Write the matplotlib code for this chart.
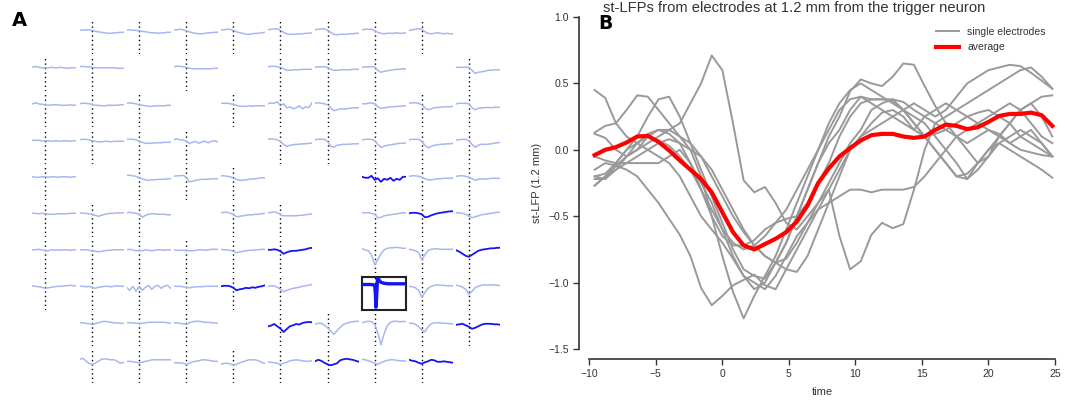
import numpy as np
import matplotlib
matplotlib.use("Agg")
import matplotlib.pyplot as plt

W, H = 1065, 401

# ---------------- Panel A data (electrode array) ----------------
T_A = np.arange(-10, 25.1, 2.5)          # trace time samples

ROW0_COLS = [1, 2, 3, 4, 5, 6, 7, 8]
ROW0 = [
    [1, 0.5, 1, 1, 0.5, -0.5, -1, -1.5, -2, -2.5, -2.5, -2, -2, -1.5, -1.5],
    [1, 1, 0.5, 0.5, 0, -0.5, -1, -1.5, -2, -2, -2.5, -2, -2, -1.5, -1.5],
    [1, 1, 1.5, 1, 0, -1, -2, -2.5, -3, -3, -2.5, -2, -2, -1.5, -1.5],
    [1, 1, 1.5, 1.5, 0.5, -1, -2, -2.5, -3.5, -3.5, -3, -2.5, -2.5, -2, -1.5],
    [1, 1.5, 2, 2, 0.5, -1.5, -3, -3.5, -3.5, -3.5, -3, -3, -2.5, -2.5, -2],
    [1, 1.5, 2, 2, 0.5, -1.5, -3.5, -4, -3.5, -3.5, -3.5, -3, -3, -2.5, -2.5],
    [1, 1.5, 1.5, 1.5, 0, -1.5, -2.5, -3, -2.5, -2.5, -2.5, -2, -2.5, -2.5, -2],
    [0.5, 1, 1.5, 2, 1.5, -1, -2.5, -3, -2.5, -2, -2.5, -3, -2.5, -3, -3],
]
ROW1_COLS = [0, 1, 3, 5, 6, 7, 9]
ROW1 = [
    [0, 1, 0, -0.5, -0.5, -0.5, 0, -0.5, -0.5, 0, -0.5, -1, -0.5, -0.5, -0.5],
    [0.5, 1, 0.5, 0.5, 0, -0.5, -0.5, -0.5, -0.5, -0.5, -0.5, -0.5, -1, -1, -1],
    [0.5, 1, 1, 0.5, 0, -1, -1.5, -1.5, -1.5, -1.5, -1.5, -1.5, -1.5, -1, -1],
    [0.5, 1, 1, 0.5, 0, -1.5, -3, -3, -2.5, -2.5, -2.5, -2, -2, -2, -2],
    [0, 0.5, 0.5, 0.5, 0, -2, -3, -3, -2.5, -2.5, -2.5, -2.5, -2, -2, -2],
    [0, 0.5, 0.5, 0.5, 0.5, -3, -5, -4, -3.5, -3, -2.5, -2, -2, -1.5, -1.5],
    [0, 0, 0, 0, 0, -3, -6, -5, -4.5, -4, -3, -3, -2.5, -2.5, -2.5],
]
ROW2_COLS = [0, 1, 2, 4, 5, 6, 7, 8, 9]
ROW2 = [
    [0, 1, 0, -0.5, -1, -1.5, -1, -1, -1, -1.5, -1.5, -1.5, -1, -1.5, -1],
    [0, 0.5, 0.5, 0, -0.5, -1.5, -1.5, -2, -2, -1.5, -1.5, -1.5, -1.5, -1, -1],
    [0.5, 1, 0.5, 0, -1, -1.5, -2, -2.5, -2.5, -2, -2, -2, -2, -1.5, -1.5],
    [0.5, 0.5, 0.5, 0, -0.5, -1.5, -2.5, -2.5, -2.5, -2, -2.5, -2, -2, -2, -2],
    [0, 1, 0.5, 2, -2, 0, -4, -3, -5, -4, -2, -5, -3, -4, 1],
    [0.5, 1, 0.5, 0, -1, -4, -7, -6, -5, -5, -5, -4.5, -4, -4, -4],
    [0, 0, 0.5, 1, 0, -3, -4.5, -4, -3.5, -3, -3, -2.5, -2.5, -2, -2],
    [0.5, 1, 1, 0.5, -1, -4, -6, -5, -4, -3.5, -3.5, -3, -3, -3, -2.5],
    [0, 0.5, 0.5, 0.5, 0, -4, -6, -4.5, -4, -4, -3.5, -4, -3.5, -3.5, -3.5],
]
ROW3_COLS = [0, 1, 2, 3, 5, 6, 7, 8, 9]
ROW3 = [
    [0, 0, 0, -0.5, -0.5, -0.5, -1, -0.5, -0.5, -1, -0.5, -0.5, -1, -0.5, -0.5],
    [0.5, 1, 1, 0.5, -0.5, -1, -1.5, -1.5, -1, -1, -1.5, -1, -1, -1, -1],
    [1, 1, 1, 0.5, -1, -2, -3, -3, -3, -2.5, -2.5, -2.5, -2, -2, -2],
    [0.5, 1.5, 0.5, 0.5, -1, -3, -2, -1, -3, -1.5, -1, -2.5, -1, -0.5, -1.5],
    [1, 1.5, 1, 0.5, -1, -4, -6, -5, -4.5, -4, -4, -3.5, -3.5, -3, -3],
    [0.5, 1, 1, 1, -1, -6, -7, -5, -4.5, -4, -4, -4, -3.5, -3.5, -3.5],
    [0.5, 1, 1, 1, -0.5, -4, -7, -6, -5, -4.5, -4, -3.5, -3, -3, -2.5],
    [0.5, 1, 1, 1, -1, -5, -7.5, -6, -5, -4.5, -4, -4, -3.5, -3.5, -3],
    [0.5, 0.5, 1, 1, -0.5, -4, -7, -5, -4, -4, -4, -3.5, -3, -2.5, -2],
]
ROW4_COLS = [0, 2, 3, 4, 7, 8, 9]
ROW4 = [
    [0, -0.5, -0.5, 0, 0, -0.5, 0, 0, -0.5, 0, 0, 0, -0.5, 0, 0],
    [1.5, 1.5, 1, 0.5, -1, -2, -3, -3.5, -3, -3, -2.5, -2.5, -2.5, -2, -2],
    [0.5, 1, 1, 1.5, -1, -5, -4.5, -3.5, -3, -2.5, -2.5, -2.5, -2, -2, -2],
    [1, 1, 0.5, 0, -1.5, -2.5, -3.5, -3.5, -3, -2.5, -2, -2, -1.5, -1, -1],
    [0, -1, -1, 1, -3, -1.5, -5, -2, -3, -1, -4, -2, -3, 0, 0],
    [0.5, 1, 1, 0.5, -0.5, -2, -3, -3, -2.5, -2, -2, -1.5, -1.5, -1.5, -1],
    [0.5, 1, 1, 0.5, -0.5, -2, -3.5, -2.5, -2, -2.5, -2, -1.5, -1.5, -1.5, -1.5],
]
ROW5_COLS = [0, 1, 2, 4, 5, 7, 8, 9]
ROW5 = [
    [0, 0, -0.5, 0, -0.5, -1, -1, -1, -0.5, -0.5, -0.5, -0.5, 0, 0, 0],
    [0.5, 0, 0, -0.5, -1, -2, -3, -2, -1, -0.5, 0, 0, 0.5, 0.5, 0.5],
    [0.5, 1, 0.5, 0, -1, -4, -2, -1, -0.5, -0.5, -1, -1, -1, -1.5, -1.5],
    [0.5, 1, 1, 0, -1, -3.5, -3, -2.5, -2, -1.5, -1.5, -1, -1, -0.5, 0],
    [0.5, 1, 1.5, 0.5, -1, -2.5, -2.5, -2.5, -2.5, -2.5, -2, -2, -1.5, -1, -0.5],
    [0.5, 0.5, 0.5, 0, -1, -4.5, -4, -2.5, -2, -1.5, -1, -0.5, 0, 0.5, 0.5],
    [0, 0.5, 0.5, 0, -1, -4, -3.5, -2, -1, 0, 0.5, 1, 1.5, 2, 2],
    [0.5, 0.5, 0, -1, -3, -4.5, -3.5, -2.5, -1.5, -1, -0.5, 0, 0.5, 1, 1],
]
ROW6_COLS = [0, 1, 2, 3, 4, 5, 7, 8, 9]
ROW6 = [
    [0, 0, 0.5, 0, -0.5, -1, 0, -0.5, 0, -0.5, 0, 0, -0.5, 0, 0],
    [0, 0, 0, -0.5, -1, -1.5, -2, -1.5, -1, -0.5, -0.5, 0, 0, 0, 0],
    [0, 0.5, 0, -1, -0.5, -1, 0, -0.5, -1, -0.5, 0, 0, -0.5, 0, 0],
    [0, -0.5, -0.5, -0.5, -0.5, -1, -1, -0.5, 0, 0, -0.5, 0, 0.5, 0.5, 0.5],
    [0.5, 0, 0, -0.5, -1.5, -3, -2, -1.5, -1, -0.5, -0.5, 0, 0, 0.5, 0.5],
    [0, 0, 0.5, 0, -1.5, -4, -2.5, -1.5, -1, -1, -0.5, 0, 0.5, 1.5, 2],
    [1, 0, -1, -5, -15, -10, -4, 0, 1.5, 2, 2, 2.5, 2, 1.5, 1.5],
    [0.5, 0, -1, -3, -10, -5, -1, 0.5, 1, 1, 0.5, 0.5, 0.5, 0.5, 0.5],
    [-0.5, -2, -4, -6, -7, -5, -3, -1, 0, 0.5, 1, 1.5, 1.5, 2, 2],
]
ROW7_COLS = [0, 1, 2, 3, 4, 5, 8, 9]
ROW7 = [
    [0.5, 0, -0.5, -1, -2, -1.5, -1, -0.5, 0, 0, 0.5, 0.5, 1, 0.5, 0.5],
    [0, 0, -0.5, 0, -1, -2, -1, -0.5, 0, 0, -0.5, 0, 0.5, 0, 0],
    [-1, -4, 0, -5, 0, -4, -1, 1, -3, 0, 1, -2, 0, 1, -2],
    [0, 0, 0, -0.5, -1, -1.5, -1, -0.5, -0.5, -0.5, 0, 0, 0, 0, 0],
    [0, 0.5, 0.5, 0, -1.5, -4, -3, -2.5, -1.5, -2, -1, -1.5, -0.5, 0, 1],
    [0, 0.5, 0.5, -1, -3, -5.5, -4, -3, -2, -1.5, -1, 0, 0.5, 1, 2],
    [0, -0.5, -1.5, -4, -11, -6, -2, 0, 1, 1.5, 1, 1, 0.5, 0.5, 0.5],
    [1, 0.5, -1, -3, -8, -5, -1.5, 0, 1, 1.5, 1, 1.5, 1.5, 1, 0.5],
]
ROW8_COLS = [1, 2, 3, 5, 6, 7, 8, 9]
ROW8 = [
    [0, 0, -0.5, -1, -1.5, -1, 0, 1, 1.5, 1, 0.5, 0, 0, -0.5, -0.5],
    [0, 0, 0, -0.5, -0.5, -0.5, 0, 0.5, 0.5, 0.5, 0.5, 0.5, 0.5, 0, -0.5],
    [0, 0, -0.5, -1, -1.5, 0, 1, 1.5, 1.5, 1, 0.5, 0.5, 0, 0, -0.5],
    [-3.5, -2.8, -1.2, -3.5, -5.8, -9.2, -6.2, -3.5, -2.5, -1.2, -1.8, -0.2, 0.5, 0.8, 0.5],
    [-1.5, -0.5, -0.5, -2.5, -5, -8, -11.5, -8, -4.5, -1.8, -0.5, 0.5, 1, 1.5, 1.5],
    [0, 1, 1.5, 1, -1.5, -10, -22, -11, -3, 0.5, 1.5, 1.5, 1, 1.5, 1],
    [-0.5, -0.5, -1.5, -4, -7, -9, -4, -1, 0, 0, 0, -0.5, -0.5, -1, -1],
    [-2, -1.5, -1, -2.5, -4, -6, -5, -3.5, -2, -1, -1, -1, -1.5, -1.5, -2],
]
ROW9_COLS = [1, 2, 3, 4, 5, 6, 7, 8]
ROW9 = [
    [0, 1, -1.5, -4, -5, -4, -2, 0, 0.5, 0, -0.5, -0.5, -2, -4, -3],
    [-2, -2, -2.5, -3, -3.5, -3, -2, -1.5, -0.5, -0.5, -0.5, -0.5, -0.5, -0.5, -0.5],
    [-3.5, -3.5, -3.5, -4, -5, -4, -2.5, -2, -1.5, -0.5, -0.5, -1, -1.5, -2, -2],
    [-5, -4, -4, -4.5, -6, -5, -3.5, -2.5, -1.5, -0.5, -0.5, -0.5, -1.5, -3, -4],
    [-2.5, -3, -3.5, -4, -5, -4, -3, -1.5, -1, -0.5, -1, -1.5, -2, -2, -1.5],
    [-2, -0.5, -1.5, -3.5, -5, -6, -5, -4, -1, 0, 0.5, 0, -0.5, -1.5, -2.5],
    [0, -0.5, -1.5, -2.5, -4, -5, -3.5, -2, -1, -0.5, -0.5, -1, -1.5, -1.5, -2],
    [-0.5, -1.5, -2, -3.5, -4.5, -3, -2, -0.5, -1, -2.5, -2.5, -2, -2.5, -3, -3.5],
]
ROWS_COLS = [ROW0_COLS, ROW1_COLS, ROW2_COLS, ROW3_COLS, ROW4_COLS,
             ROW5_COLS, ROW6_COLS, ROW7_COLS, ROW8_COLS, ROW9_COLS]
ROWS_TRACES = [ROW0, ROW1, ROW2, ROW3, ROW4, ROW5, ROW6, ROW7, ROW8, ROW9]

# electrodes at 1.2 mm (highlighted) and the trigger electrode
HIGHLIGHT = [(4, 7), (5, 8), (6, 5), (6, 9), (7, 4), (8, 5), (8, 9), (9, 6), (9, 8)]
TRIGGER_POS = (7, 7)
TRIG_T = [-10, -3, -1, 0, 0.5, 1.0, 1.5, 2.2, 2.8, 3.5, 5, 7.5, 11, 25]
TRIG_V = [1.8, 1.8, 1.5, 0.5, -6, -21, -12, 6, 9.3, 6, 4, 3, 2.5, 2.5]

# ---------------- Panel B data ----------------
T_B = -9.6 + 0.8 * np.arange(44)
AVERAGE = [-0.04, 0.0, 0.02, 0.055, 0.10, 0.105, 0.06, -0.005, -0.08, -0.15,
           -0.22, -0.32, -0.47, -0.62, -0.72, -0.75, -0.71, -0.67, -0.62, -0.54,
           -0.42, -0.25, -0.14, -0.05, 0.013, 0.07, 0.11, 0.12, 0.12, 0.10,
           0.09, 0.10, 0.15, 0.19, 0.18, 0.156, 0.17, 0.21, 0.255, 0.27,
           0.27, 0.28, 0.26, 0.18]
EL1 = [-0.2, -0.22, -0.12, -0.05, 0.0, 0.05, 0.1, 0.15, 0.2, 0.35, 0.5, 0.71, 0.6, 0.2, -0.23,
       -0.32, -0.28, -0.4, -0.55, -0.6, -0.5, -0.4, -0.3, -0.65, -0.9, -0.84, -0.64, -0.55,
       -0.59, -0.56, -0.3, 0.0, 0.2, 0.25, 0.3, 0.35, 0.4, 0.45, 0.5, 0.55, 0.6, 0.62, 0.55, 0.46]
EL2 = [-0.15, -0.1, -0.12, -0.15, -0.2, -0.3, -0.4, -0.52, -0.64, -0.8, -1.04, -1.17, -1.1,
       -1.02, -0.98, -0.94, -1.02, -1.05, -0.9, -0.75, -0.6, -0.45, -0.3, -0.15, 0.0, 0.1, 0.2,
       0.28, 0.3, 0.25, 0.15, 0.1, 0.12, 0.15, 0.2, 0.25, 0.28, 0.3, 0.25, 0.2, 0.1, 0.05, 0.0, -0.05]
EL3 = [0.13, 0.18, 0.2, 0.3, 0.41, 0.4, 0.3, 0.2, 0.1, 0.0, -0.2, -0.5, -0.8, -1.07, -1.27,
       -1.1, -0.95, -0.8, -0.6, -0.4, -0.2, 0.0, 0.2, 0.35, 0.45, 0.5, 0.45, 0.4, 0.35, 0.3,
       0.25, 0.2, 0.1, 0.0, -0.1, -0.22, -0.15, -0.05, 0.05, 0.1, 0.15, 0.1, 0.05, -0.05]
EL4 = [-0.27, -0.2, -0.1, 0.0, 0.1, 0.25, 0.38, 0.4, 0.25, 0.05, -0.15, -0.35, -0.55, -0.75,
       -0.9, -0.95, -0.97, -0.85, -0.7, -0.5, -0.3, -0.1, 0.1, 0.25, 0.44, 0.53, 0.5, 0.48,
       0.55, 0.65, 0.64, 0.48, 0.33, 0.2, 0.1, 0.0, -0.1, -0.05, 0.1, 0.2, 0.3, 0.35, 0.25, 0.1]
EL5 = [-0.22, -0.22, -0.15, -0.1, -0.05, 0.0, 0.05, 0.08, 0.05, 0.0, -0.05, -0.15, -0.3, -0.45,
       -0.6, -0.72, -0.8, -0.85, -0.9, -0.92, -0.8, -0.6, -0.4, -0.2, 0.0, 0.1, 0.15, 0.2, 0.25,
       0.3, 0.35, 0.3, 0.25, 0.3, 0.4, 0.5, 0.55, 0.6, 0.62, 0.64, 0.63, 0.58, 0.52, 0.46]
EL6 = [0.12, 0.09, 0.0, -0.05, 0.0, 0.1, 0.15, 0.12, 0.05, -0.1, -0.3, -0.5, -0.65, -0.72,
       -0.72, -0.68, -0.6, -0.55, -0.52, -0.5, -0.4, -0.25, -0.1, 0.1, 0.25, 0.35, 0.38, 0.38,
       0.37, 0.3, 0.2, 0.1, 0.0, -0.1, -0.2, -0.18, -0.1, 0.0, 0.1, 0.2, 0.3, 0.35, 0.4, 0.41]
EL7 = [-0.05, -0.08, -0.1, -0.1, -0.1, -0.1, -0.1, -0.05, 0.0, -0.1, -0.25, -0.4, -0.6, -0.8,
       -0.95, -1.0, -1.05, -0.95, -0.8, -0.65, -0.55, -0.45, -0.4, -0.35, -0.3, -0.3, -0.32,
       -0.3, -0.3, -0.3, -0.28, -0.2, -0.1, 0.0, 0.1, 0.15, 0.2, 0.25, 0.3, 0.35, 0.3, 0.2, 0.1, 0.05]
EL8 = [-0.2, -0.18, -0.1, 0.0, 0.05, 0.1, 0.07, 0.03, -0.05, -0.15, -0.3, -0.45, -0.6, -0.7,
       -0.75, -0.72, -0.65, -0.55, -0.45, -0.3, -0.15, 0.0, 0.15, 0.3, 0.38, 0.4, 0.38, 0.38,
       0.38, 0.3, 0.2, 0.1, 0.0, -0.1, -0.2, -0.22, -0.1, 0.0, 0.05, 0.0, -0.05, -0.1, -0.15, -0.21]
EL9 = [-0.27, -0.2, -0.15, -0.05, 0.05, 0.12, 0.15, 0.15, 0.1, 0.05, -0.05, -0.2, -0.35, -0.5,
       -0.62, -0.72, -0.8, -0.85, -0.82, -0.7, -0.55, -0.4, -0.25, -0.1, 0.05, 0.15, 0.3, 0.35,
       0.38, 0.36, 0.3, 0.25, 0.2, 0.15, 0.1, 0.05, 0.1, 0.15, 0.12, 0.05, 0.0, -0.02, -0.04, -0.05]
EL10 = [0.45, 0.39, 0.2, 0.1, 0.05, 0.0, -0.05, -0.1, -0.2, -0.35, -0.5, -0.6, -0.7, -0.82,
        -0.95, -1.05, -1.0, -0.85, -0.7, -0.5, -0.3, -0.1, 0.05, 0.15, 0.3, 0.4, 0.35, 0.3, 0.25,
        0.2, 0.15, 0.25, 0.3, 0.35, 0.3, 0.25, 0.2, 0.15, 0.1, 0.05, 0.1, 0.15, 0.05, -0.05]
ELECTRODES = [EL1, EL2, EL3, EL4, EL5, EL6, EL7, EL8, EL9, EL10]

X_TICKS = [-10, -5, 0, 5, 10, 15, 20, 25]
Y_TICKS = [-1.5, -1.0, -0.5, 0.0, 0.5, 1.0]

# ---------------- styling ----------------
plt.rcParams['font.family'] = ['Liberation Sans', 'DejaVu Sans']
LIGHT = '#a9b7ee'
DARK = '#1414f5'
GRAY = '#999999'
AX_COL = '#333333'

fig = plt.figure(figsize=(W / 100, H / 100), dpi=100)

# ---------------- Panel A ----------------
COL_X0, COL_DX, AX_W = 32.4, 47.1, 44.0
ROW_Y0, ROW_DY, AX_H = 21.3, 36.5, 33.0
YLIM_A = (-23.5, 9.5)


def small_axes(r, c):
    left = (COL_X0 + COL_DX * c) / W
    bottom = 1 - (ROW_Y0 + ROW_DY * r + AX_H) / H
    ax = fig.add_axes([left, bottom, AX_W / W, AX_H / H])
    ax.set_xlim(-10, 25)
    ax.set_ylim(*YLIM_A)
    ax.set_xticks([])
    ax.set_yticks([])
    for s in ax.spines.values():
        s.set_visible(False)
    ax.patch.set_alpha(0)
    ax.axvline(0, color='black', lw=1.0, ls=(0, (1, 2.2)), zorder=1)
    return ax


for r, (cols, traces) in enumerate(zip(ROWS_COLS, ROWS_TRACES)):
    for c, tr in zip(cols, traces):
        ax = small_axes(r, c)
        if (r, c) in HIGHLIGHT:
            ax.plot(T_A, tr, color=DARK, lw=1.3, zorder=3)
        else:
            ax.plot(T_A, tr, color=LIGHT, lw=1.1, zorder=3)

ax = small_axes(*TRIGGER_POS)
ax.plot(TRIG_T, TRIG_V, color=DARK, lw=2.4, zorder=3)
for s in ax.spines.values():
    s.set_visible(True)
    s.set_color('#222222')
    s.set_linewidth(1.5)

fig.text(19 / W, 1 - 21 / H, 'A', fontsize=14, fontweight='bold',
         family='DejaVu Sans', ha='center', va='center')

# ---------------- Panel B ----------------
bx_l, bx_r, by_t, by_b = 589.3, 1055.0, 17.0, 349.0
axb = fig.add_axes([bx_l / W, 1 - by_b / H, (bx_r - bx_l) / W, (by_b - by_t) / H])
for i, el in enumerate(ELECTRODES):
    axb.plot(T_B, el, color=GRAY, lw=1.4, label='single electrodes' if i == 0 else None)
axb.plot(T_B, AVERAGE, color='red', lw=3.0, label='average')
axb.set_xlim(-10, 25)
axb.set_ylim(-1.5, 1.0)
axb.set_xticks(X_TICKS)
axb.set_yticks(Y_TICKS)
axb.set_yticklabels([f'{v:.1f}'.replace('-', '\u2212') for v in Y_TICKS])
for side in ['top', 'right']:
    axb.spines[side].set_visible(False)
for side in ['left', 'bottom']:
    axb.spines[side].set_position(('outward', 7.5))
    axb.spines[side].set_color(AX_COL)
    axb.spines[side].set_linewidth(1.2)
axb.tick_params(direction='out', length=4, width=1.0, color=AX_COL,
                labelcolor='#333333', labelsize=7.5, pad=3)
axb.patch.set_alpha(0)
axb.set_xlabel('time', fontsize=8, color='#333333', labelpad=6)
axb.set_ylabel('st-LFP (1.2 mm)', fontsize=8, color='#333333', labelpad=5)
leg = axb.legend(loc='upper right', frameon=False, fontsize=7.5,
                 handlelength=2.2, bbox_to_anchor=(1.0, 0.998), labelcolor='#333333')
fig.text(794 / W, 1 - 1.0 / H, 'st-LFPs from electrodes at 1.2 mm from the trigger neuron',
         fontsize=10.6, color='#333333', ha='center', va='top')
fig.text(605 / W, 1 - 23.5 / H, 'B', fontsize=13.5, fontweight='bold',
         family='DejaVu Sans', ha='center', va='center')

fig.savefig('out.png', dpi=100)
